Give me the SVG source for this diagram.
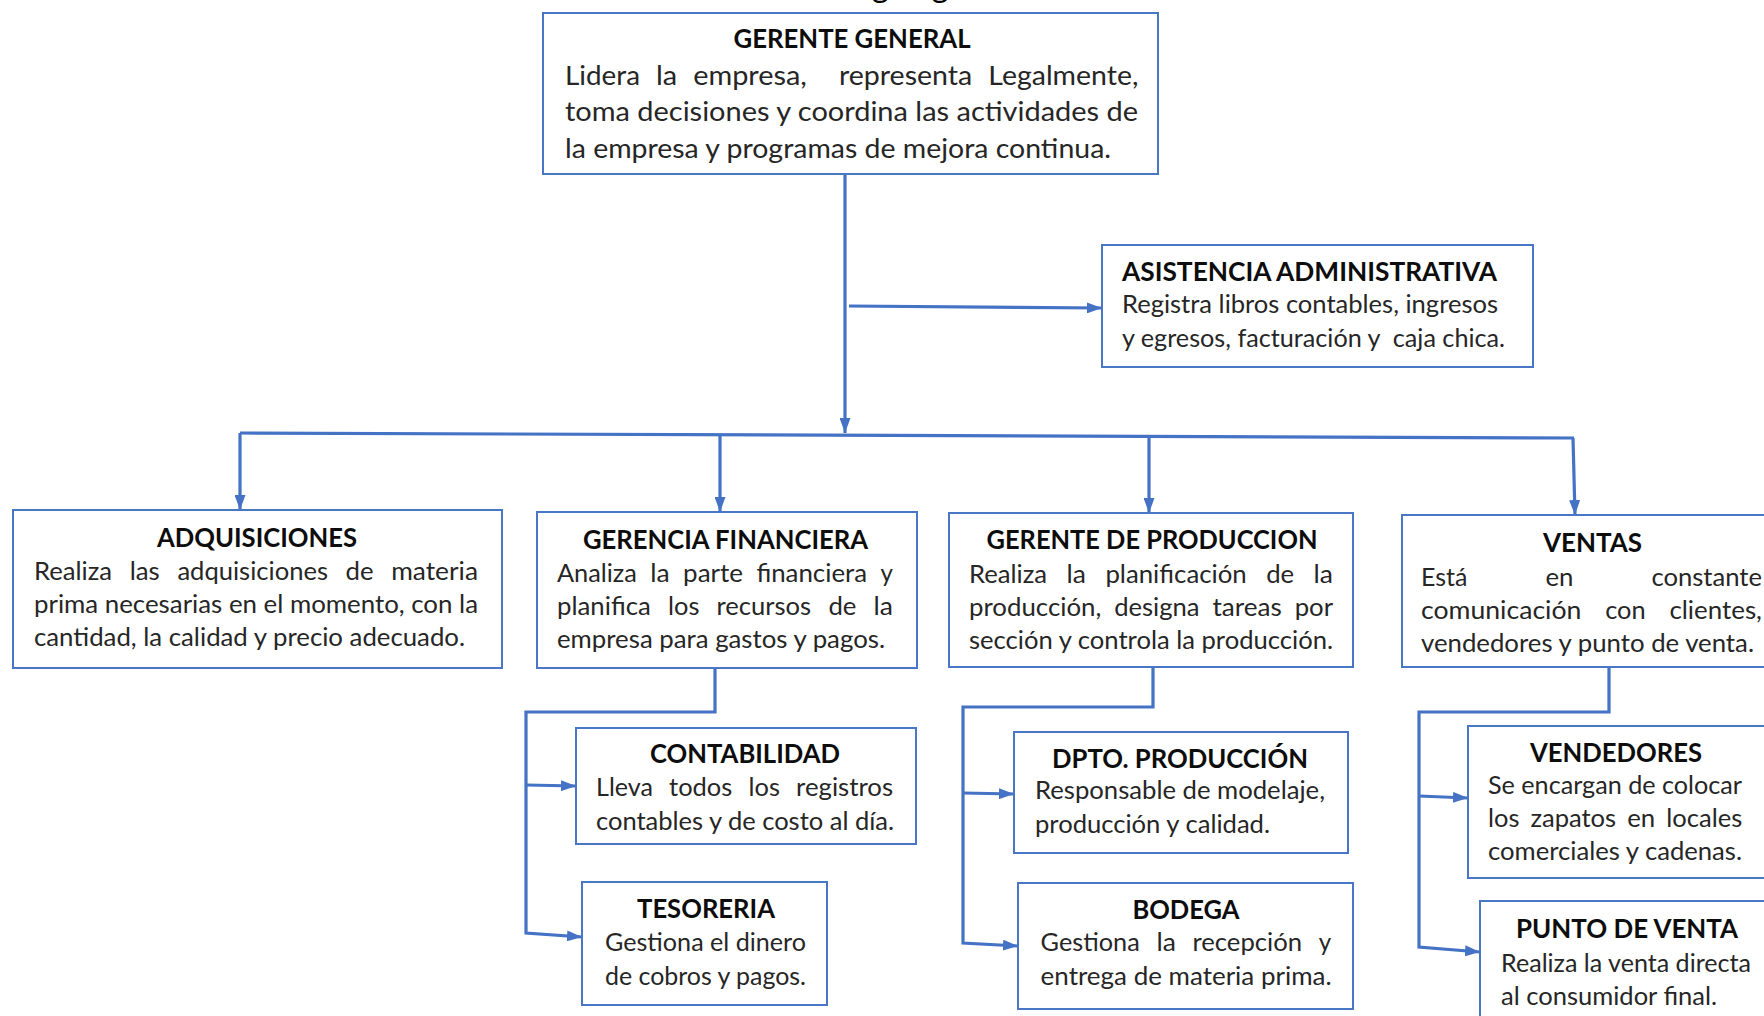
<svg xmlns="http://www.w3.org/2000/svg" width="1764" height="1016" viewBox="0 0 1764 1016">
  <style>
    .box { fill: #ffffff; stroke: #4a76c6; stroke-width: 2; }
    .ttl { font-family: Lato, "Liberation Sans", sans-serif; font-weight: 700; font-size: 27px; fill: #0d0d0d; text-anchor: middle; }
    .ttl-l { font-family: Lato, "Liberation Sans", sans-serif; font-weight: 700; font-size: 27px; fill: #0d0d0d; }
    .txt { font-family: Lato, "Liberation Sans", sans-serif; font-size: 25.5px; fill: #262626; }
    .txt-lg { font-family: Lato, "Liberation Sans", sans-serif; font-size: 27.5px; fill: #262626; }
    .cap { font-family: Lato, "Liberation Sans", sans-serif; font-size: 33px; fill: #000000; }
    .wire { fill: none; stroke: #4472c4; stroke-width: 3.2; stroke-linejoin: miter; }
    .arrow { fill: none; stroke: #4472c4; stroke-width: 3.2; marker-end: url(#head); }
  </style>
  <defs>
    <marker id="head" viewBox="0 0 15 11" refX="15" refY="5.5" markerWidth="15" markerHeight="11" markerUnits="userSpaceOnUse" orient="auto">
      <path d="M0,0 L15,5.5 L0,11 z" fill="#4472c4"/>
    </marker>
  </defs>

  <rect x="0" y="0" width="1764" height="1016" fill="#ffffff"/>

  <!-- caption above the chart, mostly outside the page -->
  <text class="cap" x="834" y="-3.5">Organigrama</text>

  <!-- connectors -->
  <g id="connectors">
    <path class="arrow" d="M845,174 V433"/>
    <path class="arrow" d="M849,306 L1102,308"/>
    <path class="wire" d="M240,433 L1574,438"/>
    <path class="arrow" d="M240,433 V510"/>
    <path class="arrow" d="M720,434 V512"/>
    <path class="arrow" d="M1149,436 V513"/>
    <path class="arrow" d="M1573,438 L1575,515"/>

    <path class="arrow" d="M715,668 V712 H526 V933 L582,937"/>
    <path class="arrow" d="M526,785 L576,786"/>

    <path class="arrow" d="M1153,667 V707 H963 V943 L1018,946"/>
    <path class="arrow" d="M963,793 L1014,794"/>

    <path class="arrow" d="M1609,667 V712 H1419 V947 L1480,952"/>
    <path class="arrow" d="M1419,796 L1468,798"/>
  </g>

  <g id="gerente-general">
    <rect class="box" x="543" y="13" width="615" height="161"/>
    <text class="ttl" x="852" y="47.5" textLength="237" lengthAdjust="spacingAndGlyphs">GERENTE GENERAL</text>
    <text class="txt-lg" y="84.5" lengthAdjust="spacingAndGlyphs"><tspan x="565" textLength="75" lengthAdjust="spacingAndGlyphs">Lidera</tspan><tspan x="656" textLength="21.2" lengthAdjust="spacingAndGlyphs">la</tspan><tspan x="693.2" textLength="113.7" lengthAdjust="spacingAndGlyphs">empresa,</tspan><tspan x="838.9" textLength="133.4" lengthAdjust="spacingAndGlyphs">representa</tspan><tspan x="988.3" textLength="150.1" lengthAdjust="spacingAndGlyphs">Legalmente,</tspan></text>
    <text class="txt-lg" x="565" y="121" textLength="573" lengthAdjust="spacingAndGlyphs">toma decisiones y coordina las actividades de</text>
    <text class="txt-lg" x="565" y="157.5" textLength="546" lengthAdjust="spacingAndGlyphs">la empresa y programas de mejora continua.</text>
  </g>

  <g id="asistencia-administrativa">
    <rect class="box" x="1102" y="245" width="431" height="122"/>
    <text class="ttl-l" x="1122" y="281" textLength="375" lengthAdjust="spacingAndGlyphs">ASISTENCIA ADMINISTRATIVA</text>
    <text class="txt" x="1122" y="313" textLength="376" lengthAdjust="spacingAndGlyphs">Registra libros contables, ingresos</text>
    <text class="txt" x="1122" y="347" textLength="383" lengthAdjust="spacingAndGlyphs" xml:space="preserve">y egresos, facturación y  caja chica.</text>
  </g>

  <g id="adquisiciones">
    <rect class="box" x="13" y="510" width="489" height="158"/>
    <text class="ttl" x="257" y="547" textLength="200" lengthAdjust="spacingAndGlyphs">ADQUISICIONES</text>
    <text class="txt" y="580"><tspan x="34" textLength="78.1" lengthAdjust="spacingAndGlyphs">Realiza</tspan><tspan x="129.7" textLength="30.1" lengthAdjust="spacingAndGlyphs">las</tspan><tspan x="177.4" textLength="150.6" lengthAdjust="spacingAndGlyphs">adquisiciones</tspan><tspan x="345.6" textLength="28" lengthAdjust="spacingAndGlyphs">de</tspan><tspan x="391.2" textLength="86.8" lengthAdjust="spacingAndGlyphs">materia</tspan></text>
    <text class="txt" x="34" y="613" textLength="444" lengthAdjust="spacingAndGlyphs">prima necesarias en el momento, con la</text>
    <text class="txt" x="34" y="646" textLength="431" lengthAdjust="spacingAndGlyphs">cantidad, la calidad y precio adecuado.</text>
  </g>

  <g id="gerencia-financiera">
    <rect class="box" x="537" y="512" width="380" height="156"/>
    <text class="ttl" x="725.5" y="549" textLength="285" lengthAdjust="spacingAndGlyphs">GERENCIA FINANCIERA</text>
    <text class="txt" y="582"><tspan x="557" textLength="79.9" lengthAdjust="spacingAndGlyphs">Analiza</tspan><tspan x="650.3" textLength="19.4" lengthAdjust="spacingAndGlyphs">la</tspan><tspan x="683.1" textLength="59.9" lengthAdjust="spacingAndGlyphs">parte</tspan><tspan x="756.4" textLength="110.7" lengthAdjust="spacingAndGlyphs">financiera</tspan><tspan x="880.5" textLength="12.4" lengthAdjust="spacingAndGlyphs">y</tspan></text>
    <text class="txt" y="615"><tspan x="557" textLength="93.8" lengthAdjust="spacingAndGlyphs">planifica</tspan><tspan x="668" textLength="31.4" lengthAdjust="spacingAndGlyphs">los</tspan><tspan x="716.6" textLength="94.6" lengthAdjust="spacingAndGlyphs">recursos</tspan><tspan x="828.4" textLength="28" lengthAdjust="spacingAndGlyphs">de</tspan><tspan x="873.6" textLength="19.4" lengthAdjust="spacingAndGlyphs">la</tspan></text>
    <text class="txt" x="557" y="648" textLength="328" lengthAdjust="spacingAndGlyphs">empresa para gastos y pagos.</text>
  </g>

  <g id="gerente-produccion">
    <rect class="box" x="949" y="513" width="404" height="154"/>
    <text class="ttl" x="1152" y="549" textLength="331" lengthAdjust="spacingAndGlyphs">GERENTE DE PRODUCCION</text>
    <text class="txt" y="583"><tspan x="969" textLength="78.1" lengthAdjust="spacingAndGlyphs">Realiza</tspan><tspan x="1066.6" textLength="19.4" lengthAdjust="spacingAndGlyphs">la</tspan><tspan x="1105.4" textLength="141.3" lengthAdjust="spacingAndGlyphs">planificación</tspan><tspan x="1266.2" textLength="28" lengthAdjust="spacingAndGlyphs">de</tspan><tspan x="1313.6" textLength="19.4" lengthAdjust="spacingAndGlyphs">la</tspan></text>
    <text class="txt" y="616"><tspan x="969" textLength="132.3" lengthAdjust="spacingAndGlyphs">producción,</tspan><tspan x="1114.2" textLength="85.4" lengthAdjust="spacingAndGlyphs">designa</tspan><tspan x="1212.5" textLength="69.3" lengthAdjust="spacingAndGlyphs">tareas</tspan><tspan x="1294.7" textLength="38.4" lengthAdjust="spacingAndGlyphs">por</tspan></text>
    <text class="txt" x="969" y="649" textLength="364" lengthAdjust="spacingAndGlyphs">sección y controla la producción.</text>
  </g>

  <g id="ventas">
    <rect class="box" x="1402" y="515" width="400" height="152"/>
    <text class="ttl" x="1592.5" y="552" textLength="99" lengthAdjust="spacingAndGlyphs">VENTAS</text>
    <text class="txt" y="586"><tspan x="1421" textLength="46.4" lengthAdjust="spacingAndGlyphs">Está</tspan><tspan x="1545.4" textLength="28" lengthAdjust="spacingAndGlyphs">en</tspan><tspan x="1651.4" textLength="110.6" lengthAdjust="spacingAndGlyphs">constante</tspan></text>
    <text class="txt" y="619"><tspan x="1421" textLength="160.4" lengthAdjust="spacingAndGlyphs">comunicación</tspan><tspan x="1605.2" textLength="40.4" lengthAdjust="spacingAndGlyphs">con</tspan><tspan x="1669.4" textLength="92.6" lengthAdjust="spacingAndGlyphs">clientes,</tspan></text>
    <text class="txt" x="1421" y="652" textLength="333" lengthAdjust="spacingAndGlyphs">vendedores y punto de venta.</text>
  </g>

  <g id="contabilidad">
    <rect class="box" x="576" y="728" width="340" height="116"/>
    <text class="ttl" x="745" y="763" textLength="190" lengthAdjust="spacingAndGlyphs">CONTABILIDAD</text>
    <text class="txt" y="796"><tspan x="596" textLength="56.9" lengthAdjust="spacingAndGlyphs">Lleva</tspan><tspan x="669.1" textLength="63.2" lengthAdjust="spacingAndGlyphs">todos</tspan><tspan x="748.5" textLength="31.4" lengthAdjust="spacingAndGlyphs">los</tspan><tspan x="796.1" textLength="97" lengthAdjust="spacingAndGlyphs">registros</tspan></text>
    <text class="txt" x="596" y="830" textLength="298" lengthAdjust="spacingAndGlyphs">contables y de costo al día.</text>
  </g>

  <g id="tesoreria">
    <rect class="box" x="582" y="882" width="245" height="123"/>
    <text class="ttl" x="706" y="918" textLength="138" lengthAdjust="spacingAndGlyphs">TESORERIA</text>
    <text class="txt" x="605" y="951" textLength="201" lengthAdjust="spacingAndGlyphs">Gestiona el dinero</text>
    <text class="txt" x="605" y="985" textLength="201" lengthAdjust="spacingAndGlyphs">de cobros y pagos.</text>
  </g>

  <g id="dpto-produccion">
    <rect class="box" x="1014" y="732" width="334" height="121"/>
    <text class="ttl" x="1180" y="768" textLength="256" lengthAdjust="spacingAndGlyphs">DPTO. PRODUCCIÓN</text>
    <text class="txt" x="1035" y="799" textLength="290" lengthAdjust="spacingAndGlyphs">Responsable de modelaje,</text>
    <text class="txt" x="1035" y="833" textLength="235" lengthAdjust="spacingAndGlyphs">producción y calidad.</text>
  </g>

  <g id="bodega">
    <rect class="box" x="1018" y="883" width="335" height="126"/>
    <text class="ttl" x="1186" y="919" textLength="107" lengthAdjust="spacingAndGlyphs">BODEGA</text>
    <text class="txt" y="951"><tspan x="1040.6" textLength="99.1" lengthAdjust="spacingAndGlyphs">Gestiona</tspan><tspan x="1156.4" textLength="19.4" lengthAdjust="spacingAndGlyphs">la</tspan><tspan x="1192.5" textLength="109.5" lengthAdjust="spacingAndGlyphs">recepción</tspan><tspan x="1318.7" textLength="12.4" lengthAdjust="spacingAndGlyphs">y</tspan></text>
    <text class="txt" x="1040.6" y="985" textLength="291" lengthAdjust="spacingAndGlyphs">entrega de materia prima.</text>
  </g>

  <g id="vendedores">
    <rect class="box" x="1468" y="726" width="400" height="152"/>
    <text class="ttl" x="1616" y="762" textLength="172" lengthAdjust="spacingAndGlyphs">VENDEDORES</text>
    <text class="txt" x="1488" y="794" textLength="254" lengthAdjust="spacingAndGlyphs">Se encargan de colocar</text>
    <text class="txt" y="827"><tspan x="1488" textLength="31.4" lengthAdjust="spacingAndGlyphs">los</tspan><tspan x="1530.4" textLength="85.8" lengthAdjust="spacingAndGlyphs">zapatos</tspan><tspan x="1627.2" textLength="28" lengthAdjust="spacingAndGlyphs">en</tspan><tspan x="1666.2" textLength="76.1" lengthAdjust="spacingAndGlyphs">locales</tspan></text>
    <text class="txt" x="1488" y="860" textLength="254" lengthAdjust="spacingAndGlyphs">comerciales y cadenas.</text>
  </g>

  <g id="punto-de-venta">
    <rect class="box" x="1480" y="901" width="400" height="200"/>
    <text class="ttl" x="1627" y="938" textLength="222" lengthAdjust="spacingAndGlyphs">PUNTO DE VENTA</text>
    <text class="txt" x="1501" y="972" textLength="250" lengthAdjust="spacingAndGlyphs">Realiza la venta directa</text>
    <text class="txt" x="1501" y="1005" textLength="216" lengthAdjust="spacingAndGlyphs">al consumidor final.</text>
  </g>
</svg>
